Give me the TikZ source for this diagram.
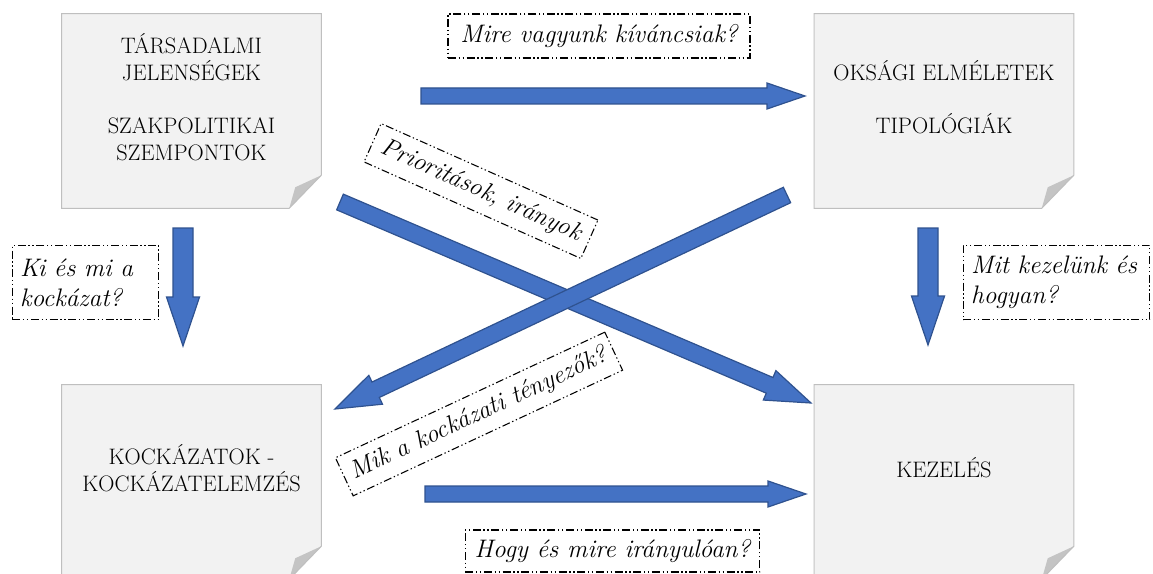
\documentclass[tikz,border=0pt]{standalone}
\usepackage{fontspec}
\usetikzlibrary{calc}

\definecolor{arrowfill}{RGB}{68,114,196}
\definecolor{arrowline}{RGB}{47,82,143}
\definecolor{pagefill}{RGB}{242,242,242}
\definecolor{pageline}{RGB}{191,191,191}
\definecolor{pagefold}{RGB}{196,196,196}

\tikzset{
  page/.style={fill=pagefill, minimum width=194.25pt, minimum height=145.5pt, inner sep=0pt},
  pagetext/.style={align=center, font=\fontsize{16.8}{20}\selectfont, inner sep=0pt},
  question/.style={draw, line width=0.8pt, dash pattern=on 6pt off 2pt on 1pt off 2pt on 1pt off 2pt,
    font=\itshape\fontsize{19}{22.5}\selectfont, inner xsep=6pt, inner ysep=0pt, minimum height=31.5pt},
  blockarrow/.style={fill=arrowfill, draw=arrowline, line width=0.9pt, line join=miter},
}

% folded corner of a page node (yshift is flipped by yscale=-1)
\newcommand{\foldpage}[1]{%
  \fill[white] ([yshift=-24.75pt]#1.south east) -- (#1.south east) -- ([xshift=-24pt]#1.south east) -- cycle;
  \fill[pagefold] ([yshift=-24.75pt]#1.south east) -- ([xshift=-19.5pt,yshift=-15.75pt]#1.south east) -- ([xshift=-24pt]#1.south east) -- cycle;
  \draw[pageline, line width=0.75pt] ([yshift=-24.75pt]#1.south east) -- (#1.north east) -- (#1.north west) -- (#1.south west) -- ([xshift=-24pt]#1.south east) -- cycle;
}

% block arrow: from, to, half shaft, half head, head length
\newcommand{\bigarrow}[5]{%
  \coordinate (ah) at ($(#2)!#5!(#1)$);
  \draw[blockarrow] ($(#1)!#3!90:(#2)$) -- ($(ah)!#3!90:(#2)$) -- ($(ah)!#4!90:(#2)$) -- (#2)
    -- ($(ah)!#4!-90:(#2)$) -- ($(ah)!#3!-90:(#2)$) -- ($(#1)!#3!-90:(#2)$) -- cycle;
}

\begin{document}
\begin{tikzpicture}[x=0.75pt,y=0.75pt,yscale=-1,xscale=1]
\path[use as bounding box, clip] (0,0) rectangle (1153,574);

%Pages
\node[page] (society) at (191.5,111) {};
\node[page] (theory) at (944,111) {};
\node[page] (risk) at (191.5,482) {};
\node[page] (treat) at (944,482) {};
\foldpage{society}
\foldpage{theory}
\foldpage{risk}
\foldpage{treat}

%Page texts
\node[pagetext] (societyText) at ([yshift=-10.5pt]society.center) {TÁRSADALMI\\JELENSÉGEK\\[20pt]SZAKPOLITIKAI\\SZEMPONTOK};
\node[pagetext] (theoryText) at ([yshift=-10.5pt]theory.center) {OKSÁGI ELMÉLETEK\\[20pt]TIPOLÓGIÁK};
\node[pagetext] (riskText) at ([yshift=-10.5pt]risk.center) {KOCKÁZATOK -\\KOCKÁZATELEMZÉS};
\node[pagetext] (treatText) at ([yshift=-10.5pt]treat.center) {KEZELÉS};

%Arrow ends
\coordinate (topA) at (421,96);   \coordinate (topB) at (805,96);
\coordinate (botA) at (425,494);  \coordinate (botB) at (806,494);
\coordinate (leftA) at (183,228); \coordinate (leftB) at (183,346);
\coordinate (rightA) at (928,228); \coordinate (rightB) at (928,345);
\coordinate (crossA) at (340,202); \coordinate (crossB) at (811,403);
\coordinate (backA) at (787,195); \coordinate (backB) at (335,409);

%Arrows
\bigarrow{topA}{topB}{6pt}{9.75pt}{28.5pt}
\bigarrow{botA}{botB}{6pt}{9.75pt}{28.5pt}
\bigarrow{leftA}{leftB}{7.5pt}{12.4pt}{36.75pt}
\bigarrow{rightA}{rightB}{7.5pt}{12.4pt}{36.75pt}
\bigarrow{crossA}{crossB}{6.4pt}{12pt}{33.75pt}
\bigarrow{backA}{backB}{6.4pt}{12pt}{33.75pt}

%Questions
\node[question, minimum width=226.5pt, minimum height=33pt] (curious) at (599,36) {Mire vagyunk kíváncsiak?};
\node[question, text width=98pt, minimum height=56pt, align=left] (who) at (85.5,282.5) {Ki és mi a\\kockázat?};
\node[question, text width=128pt, minimum height=56pt, align=left] (how) at (1056.5,282.5) {Mit kezelünk és\\hogyan?};
\node[question, minimum width=221pt] (aim) at (612.5,551) {Hogy és mire irányulóan?};
\node[question, minimum width=178pt, rotate=-24] (prio) at (481,191) {Prioritások, irányok};
\node[question, minimum width=221pt, rotate=25] (factor) at (479,414) {Mik a kockázati tényezők?};

\end{tikzpicture}
\end{document}
